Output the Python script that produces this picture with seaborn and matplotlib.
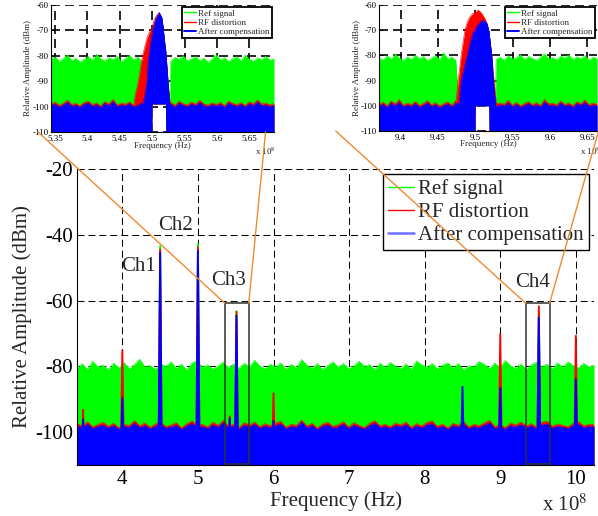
import numpy as np
import matplotlib
matplotlib.use("Agg")
import matplotlib.pyplot as plt
import seaborn as sns
from matplotlib.lines import Line2D
from matplotlib.patches import Rectangle, ConnectionPatch

# ---------------------------------------------------------------- data
series_names = ["Ref signal", "RF distortion", "After compensation"]

# main spectrum: x in units of 1e8 Hz, levels in dBm
main_xlim = (3.4, 10.24)
main_green_top = [
    -80.3, -79.2, -80.9, -78.4, -80.1, -79.6, -81.0, -79.0, -80.4, -78.8,
    -80.7, -79.4, -77.8, -80.2, -79.7, -80.9, -79.1, -80.0, -78.6, -80.5,
    -79.3, -81.1, -78.9, -78.2, -80.3, -79.5, -80.8, -79.8, -78.7, -80.4,
    -79.2, -80.6, -79.0, -80.1, -78.1, -79.9, -80.7, -79.3, -80.2, -78.9,
    -80.8, -79.4, -80.3, -77.9, -79.6, -80.5, -79.1, -80.9, -79.7, -78.6,
    -80.2, -79.1, -80.6, -79.8, -78.4, -80.0, -79.4, -81.0, -79.0, -80.3,
    -78.8, -79.9, -80.6, -79.2, -80.8, -78.3, -79.5, -80.2, -79.1, -80.7,
    -79.6, -78.9, -80.4, -79.1, -81.0, -79.8, -80.1, -78.5, -79.4, -80.6,
    -79.0, -80.3, -78.2, -79.8, -80.5, -79.2, -80.9, -79.5, -78.7, -80.0,
    -79.3, -80.7, -78.9, -80.2, -78.6, -79.7, -80.4, -79.1, -80.1, -79.6]
main_red_floor = [
    -97.4, -98.1, -96.8, -98.4, -97.6, -97.0, -98.2, -97.3, -98.6, -97.7,
    -97.9, -96.5, -98.0, -97.2, -98.5, -97.5, -96.9, -98.3, -97.8, -97.1,
    -98.7, -97.4, -96.6, -98.0, -97.6, -98.4, -97.0, -97.9, -96.4, -98.2,
    -97.5, -98.6, -97.1, -97.8, -96.9, -98.3, -97.4, -98.0, -97.2, -96.7,
    -98.5, -97.6, -97.9, -96.3, -98.1, -97.3, -98.7, -97.5, -97.0, -98.2,
    -97.7, -96.8, -98.4, -97.1, -97.9, -98.6, -97.3, -96.5, -98.0, -97.6,
    -98.3, -97.2, -97.8, -96.9, -98.5, -97.4, -98.1, -97.0, -96.6, -98.2,
    -97.5, -98.7, -97.3, -97.9, -96.8, -98.4, -97.6, -98.0, -97.1, -96.4,
    -98.3, -97.7, -98.6, -97.2, -97.8, -96.9, -98.1, -97.4, -98.5, -97.0,
    -96.7, -98.2, -97.5, -97.9, -98.4, -97.3, -96.8, -98.0, -97.6, -97.8]
main_blue_floor = [
    -98.1, -98.6, -97.6, -98.9, -98.2, -97.9, -98.7, -98.0, -99.1, -98.3,
    -98.5, -97.3, -98.6, -98.0, -99.0, -98.2, -97.7, -98.8, -98.4, -97.9,
    -99.2, -98.1, -97.4, -98.6, -98.3, -98.9, -97.8, -98.5, -97.1, -98.7,
    -98.2, -99.1, -97.9, -98.4, -97.6, -98.8, -98.1, -98.6, -98.0, -97.5,
    -99.0, -98.3, -98.5, -97.0, -98.7, -98.0, -99.2, -98.2, -97.8, -98.8,
    -98.4, -97.6, -98.9, -97.9, -98.5, -99.1, -98.0, -97.3, -98.6, -98.3,
    -98.8, -98.0, -98.4, -97.7, -99.0, -98.1, -98.7, -97.8, -97.4, -98.8,
    -98.2, -99.2, -98.0, -98.5, -97.6, -98.9, -98.3, -98.6, -97.9, -97.2,
    -98.9, -98.4, -99.1, -98.0, -98.4, -97.7, -98.7, -98.1, -99.0, -97.8,
    -97.5, -98.8, -98.2, -98.5, -98.9, -98.0, -97.6, -98.6, -98.3, -98.4]

# spectral peaks (centre in 1e8 Hz, peak level in dBm)
green_peak_freq = [4.5, 5.0, 5.51, 9.51]
green_peak_top = [-43.2, -42.6, -63.0, -63.0]
red_peak_freq = [3.48, 4.0, 4.5, 5.0, 5.42, 5.51, 6.0, 9.0, 9.51, 10.0]
red_peak_top = [-93.0, -75.0, -44.3, -43.6, -95.0, -63.2, -88.0, -70.0, -61.5, -70.5]
blue_peak_freq = [3.48, 4.0, 4.5, 5.0, 5.42, 5.51, 6.0, 8.5, 9.0, 9.51, 10.0]
blue_peak_top = [-96.0, -89.5, -45.3, -44.7, -95.6, -64.4, -96.5, -86.0, -86.4, -65.0, -83.7]

channel_names = ["Ch1", "Ch2", "Ch3", "Ch4"]
channel_label_x = [4.21, 4.70, 5.40, 9.425]
channel_label_y = [-49.6, -37.1, -53.9, -54.4]

# zoomed windows marked on the main spectrum
box_x = [(5.355, 5.672), (9.336, 9.653)]
box_y = (-109.8, -60.8)

# zoom on Ch3
ins1_xlim = (5.344, 5.688)
ins1_xticks = [5.35, 5.40, 5.45, 5.50, 5.55, 5.60, 5.65]
ins1_xticklabels = ["5.35", "5.4", "5.45", "5.5", "5.55", "5.6", "5.65"]
ins1_green_top = [
    -81.2, -80.4, -82.1, -81.0, -79.6, -81.8, -80.9, -82.4, -81.3, -80.2,
    -81.7, -79.3, -81.1, -82.0, -80.7, -81.5, -80.1, -82.3, -81.0, -79.8,
    -81.6, -80.5, -82.2, -81.2, -80.0, -81.9, -80.8, -79.1, -81.4, -82.1,
    -80.6, -81.3, -79.9, -82.0, -81.1, -80.3, -81.8, -80.9, -82.5, -81.2,
    -79.5, -81.6, -80.7, -82.2, -81.0, -80.4, -81.9, -79.7, -81.3, -82.1,
    -80.8, -81.5, -80.2, -81.7, -81.0]
ins1_red_floor = [
    -98.9, -98.2, -99.5, -98.6, -97.4, -99.1, -98.7, -99.6, -98.3, -97.8,
    -99.2, -98.5, -99.7, -98.0, -98.9, -97.1, -99.3, -98.6, -99.0, -98.1,
    -99.4, -98.8, -97.6, -99.2, -98.4, -99.6, -98.7, -98.0, -99.1, -98.3,
    -99.5, -97.9, -98.8, -99.3, -98.2, -99.0, -97.5, -98.9, -99.4, -98.5,
    -99.1, -98.3, -99.6, -97.8, -98.7, -99.2, -98.4, -99.5, -98.1, -98.9,
    -97.3, -99.0, -98.6, -99.3, -98.8]
ins1_blue_floor = [
    -99.6, -99.0, -100.2, -99.3, -98.3, -99.8, -99.4, -100.3, -99.1, -98.6,
    -99.9, -99.2, -100.4, -98.7, -99.6, -98.0, -100.0, -99.3, -99.7, -98.9,
    -100.1, -99.5, -98.5, -99.9, -99.2, -100.3, -99.4, -98.8, -99.8, -99.0,
    -100.2, -98.6, -99.5, -100.0, -99.0, -99.7, -98.4, -99.6, -100.1, -99.2,
    -99.8, -99.1, -100.3, -98.6, -99.4, -99.9, -99.1, -100.2, -98.9, -99.6,
    -98.2, -99.7, -99.3, -100.0, -99.5]
ins1_blue_band_x = [5.486, 5.489, 5.492, 5.494, 5.497, 5.4995, 5.500, 5.503, 5.506, 5.509,
                    5.511, 5.513, 5.515, 5.517, 5.519, 5.5205, 5.521, 5.523, 5.525, 5.527]
ins1_blue_band_top = [-99, -95, -90, -82, -76, -72, -71, -68, -65, -64,
                      -63, -64, -65, -69, -74, -77, -78, -85, -92, -99]
ins1_blue_band_bot = [-110, -110, -110, -110, -110, -110, -99, -99, -99, -99,
                      -99, -99, -99, -99, -99, -99, -110, -110, -110, -110]
ins1_red_band_x = [5.472, 5.474, 5.477, 5.480, 5.483, 5.486, 5.489, 5.492, 5.495, 5.4995,
                   5.500, 5.503, 5.506, 5.509, 5.511, 5.513, 5.515, 5.517, 5.519, 5.5205,
                   5.521, 5.523, 5.525, 5.528]
ins1_red_band_top = [-99, -95, -92, -88, -83, -79, -76, -73, -71, -69,
                     -68.5, -66, -64.5, -63.5, -63, -64, -65, -69, -74, -77,
                     -78, -85, -92, -99]
ins1_red_band_bot = [-110, -110, -110, -110, -110, -110, -110, -110, -110, -110,
                     -99, -99, -99, -99, -99, -99, -99, -99, -99, -99,
                     -110, -110, -110, -110]

# zoom on Ch4
ins2_xlim = (9.371, 9.663)
ins2_xticks = [9.40, 9.45, 9.50, 9.55, 9.60, 9.65]
ins2_xticklabels = ["9.4", "9.45", "9.5", "9.55", "9.6", "9.65"]
ins2_green_top = [
    -80.9, -81.8, -80.2, -81.4, -79.4, -81.0, -82.0, -80.6, -81.5, -79.9,
    -81.2, -80.4, -82.1, -81.0, -80.1, -81.7, -78.9, -81.3, -80.6, -81.9,
    -80.3, -81.1, -79.7, -81.6, -80.8, -82.2, -80.5, -81.2, -79.2, -81.5,
    -80.7, -81.9, -80.1, -81.3, -80.9, -79.6, -81.7, -80.4, -81.1, -82.0,
    -80.6, -79.3, -81.4, -80.8, -81.8, -80.2, -81.0, -79.8, -81.6, -80.5,
    -81.3, -80.0, -81.9, -80.7, -81.2]
ins2_red_floor = [
    -99.4, -98.6, -99.9, -98.1, -99.2, -97.5, -99.7, -98.9, -99.5, -98.3,
    -99.8, -99.0, -97.9, -99.6, -98.7, -100.0, -99.1, -98.4, -99.7, -98.0,
    -99.3, -98.8, -99.9, -97.6, -99.4, -98.5, -99.8, -99.0, -98.2, -99.6,
    -98.9, -99.3, -97.8, -99.7, -98.6, -99.9, -99.1, -98.3, -99.5, -98.7,
    -99.8, -97.4, -99.2, -98.9, -99.6, -98.1, -99.4, -98.8, -99.9, -98.4,
    -99.1, -97.7, -99.5, -98.9, -99.3]
ins2_blue_floor = [
    -100.1, -99.4, -100.6, -98.9, -100.0, -98.6, -100.4, -99.7, -100.2, -99.1,
    -100.5, -99.8, -98.8, -100.3, -99.5, -100.7, -99.9, -99.2, -100.4, -98.9,
    -100.0, -99.6, -100.6, -98.7, -100.1, -99.3, -100.5, -99.8, -99.0, -100.3,
    -99.7, -100.0, -98.8, -100.4, -99.4, -100.6, -99.9, -99.1, -100.2, -99.5,
    -100.5, -98.5, -99.9, -99.7, -100.3, -98.9, -100.1, -99.6, -100.6, -99.2,
    -99.8, -98.7, -100.2, -99.7, -100.0]
ins2_blue_band_x = [9.478, 9.481, 9.485, 9.489, 9.493, 9.497, 9.4995, 9.500, 9.503, 9.506,
                    9.509, 9.512, 9.515, 9.517, 9.518, 9.5185, 9.520, 9.522, 9.524, 9.527]
ins2_blue_band_top = [-99, -90, -85, -80, -75, -71, -70, -69.5, -68, -67,
                      -66, -66.5, -67, -69, -70, -71, -75, -80, -90, -99]
ins2_blue_band_bot = [-110, -110, -110, -110, -110, -110, -110, -100, -100, -100,
                      -100, -100, -100, -100, -100, -110, -110, -110, -110, -110]
ins2_red_band_x = [9.474, 9.477, 9.479, 9.481, 9.484, 9.486, 9.489, 9.492, 9.496, 9.4995,
                   9.500, 9.502, 9.504, 9.507, 9.510, 9.513, 9.516, 9.518, 9.5185, 9.520,
                   9.522, 9.525, 9.528]
ins2_red_band_top = [-99, -90, -85, -80, -74, -70, -67, -65, -63.5, -63,
                     -62.8, -62.3, -62, -62.8, -64, -65.5, -67.5, -70, -71, -75,
                     -80, -90, -99]
ins2_red_band_bot = [-110, -110, -110, -110, -110, -110, -110, -110, -110, -110,
                     -100, -100, -100, -100, -100, -100, -100, -100, -110, -110,
                     -110, -110, -110]

# ---------------------------------------------------------------- style
sns.set_theme(style="white")
plt.rcParams["font.family"] = ["Liberation Serif", "DejaVu Serif"]
plt.rcParams["mathtext.fontset"] = "stix"
plt.rcParams["axes.unicode_minus"] = False

GREEN, RED, BLUE = "#00ff00", "#ff0000", "#0000ff"
ORANGE = "#ef8a2e"
FLOOR = -110
W, H = 598, 516

fig = plt.figure(figsize=(W / 100, H / 100), dpi=100)


def px_axes(left, top, right, bottom):
    return fig.add_axes([left / W, 1 - bottom / H, (right - left) / W, (bottom - top) / H])


def style_axes(ax, size, grid_ls, grid_lw):
    ax.set_axisbelow(True)
    ax.grid(True, color="black", linestyle=grid_ls, linewidth=grid_lw)
    for side in ("top", "right"):
        ax.spines[side].set_visible(False)
    for side in ("left", "bottom"):
        ax.spines[side].set_color("black")
        ax.spines[side].set_linewidth(0.8)
        ax.spines[side].set_zorder(4)
    ax.tick_params(direction="in", length=3, width=0.6, colors="black",
                   labelsize=size, bottom=True, left=True)


def draw_layer(ax, x, top, bottom, color, z):
    ax.fill_between(x, bottom, top, color=color, linewidth=0, zorder=z)
    sns.lineplot(x=x, y=top, ax=ax, color=color, linewidth=0.4,
                 sort=False, estimator=None, zorder=z + 0.01)


def draw_peaks(ax, freqs, tops, color, z, hw=0.035):
    for c, t in zip(freqs, tops):
        ax.fill([c - hw, c - 0.35 * hw, c + 0.35 * hw, c + hw],
                [FLOOR, t, t, FLOOR], color=color, linewidth=0, zorder=z)


def band_layer(ax, grid, noise, bx, btop, bbot, color, z):
    grid = np.asarray(grid)
    noise = np.asarray(noise)
    keep = (grid < bx[0]) | (grid > bx[-1])
    x = np.concatenate([grid[keep], bx])
    top = np.concatenate([noise[keep], btop])
    bot = np.concatenate([np.full(keep.sum(), FLOOR), bbot])
    order = np.argsort(x, kind="stable")
    draw_layer(ax, x[order], top[order], bot[order], color, z)


# ---------------------------------------------------------------- main spectrum
ax = px_axes(77, 169, 594, 465)
style_axes(ax, 15, (0, (6.7, 3.8)), 0.75)
main_grid = np.linspace(main_xlim[0], main_xlim[1], len(main_green_top))

draw_layer(ax, main_grid, main_green_top, FLOOR, GREEN, 1.0)
draw_peaks(ax, green_peak_freq, green_peak_top, GREEN, 1.05)
draw_layer(ax, main_grid, main_red_floor, FLOOR, RED, 1.1)
draw_peaks(ax, red_peak_freq, red_peak_top, RED, 1.15)
draw_layer(ax, main_grid, main_blue_floor, FLOOR, BLUE, 1.2)
draw_peaks(ax, blue_peak_freq, blue_peak_top, BLUE, 1.25)

ax.set_xlim(*main_xlim)
ax.set_ylim(FLOOR, -20)
ax.set_xticks([4, 5, 6, 7, 8, 9, 10])
ax.set_xticklabels(["4", "5", "6", "7", "8", "9", "10"])
ax.set_yticks([-100, -80, -60, -40, -20])
ax.set_yticklabels(["-100", "-80", "-60", "-40", "-20"])
ax.tick_params(axis="x", pad=3.5)
ax.tick_params(axis="y", pad=3)
ax.set_xlabel("Frequency (Hz)", fontsize=15)
ax.set_ylabel("Relative Amplitude (dBm)", fontsize=15)
ax.xaxis.set_label_coords(0.5, -0.088)
ax.yaxis.set_label_coords(-0.087, 0.5)

for name, lx, ly in zip(channel_names, channel_label_x, channel_label_y):
    ax.text(lx, ly, name, fontsize=15, ha="center", va="center", zorder=6)

for x0, x1 in box_x:
    ax.add_patch(Rectangle((x0, box_y[0]), x1 - x0, box_y[1] - box_y[0], fill=False,
                           edgecolor="#303030", linewidth=1.1, zorder=5))

legend_handles = [Line2D([], [], color=GREEN, lw=1.0),
                  Line2D([], [], color=RED, lw=1.0),
                  Line2D([], [], color="#6f6fff", lw=1.8)]
leg = ax.legend(legend_handles, series_names, loc="upper right", fontsize=15,
                frameon=True, fancybox=False, framealpha=1, edgecolor="black",
                borderpad=0.25, labelspacing=0.15, handlelength=1.25,
                handletextpad=0.2, borderaxespad=0.24)
leg.get_frame().set_linewidth(1.0)
leg.set_zorder(7)

fig.text(587 / W, 1 - 511 / H, "x 10$^{8}$", fontsize=15, ha="right", va="baseline")

# ---------------------------------------------------------------- zoomed panels
insets = [
    dict(rect=(51, 5, 274, 132), xlim=ins1_xlim, xt=ins1_xticks, xtl=ins1_xticklabels,
         green=ins1_green_top, red=ins1_red_floor, blue=ins1_blue_floor,
         bbx=ins1_blue_band_x, bbt=ins1_blue_band_top, bbb=ins1_blue_band_bot,
         rbx=ins1_red_band_x, rbt=ins1_red_band_top, rbb=ins1_red_band_bot,
         exp=(255, 155)),
    dict(rect=(379, 5, 597, 131), xlim=ins2_xlim, xt=ins2_xticks, xtl=ins2_xticklabels,
         green=ins2_green_top, red=ins2_red_floor, blue=ins2_blue_floor,
         bbx=ins2_blue_band_x, bbt=ins2_blue_band_top, bbb=ins2_blue_band_bot,
         rbx=ins2_red_band_x, rbt=ins2_red_band_top, rbb=ins2_red_band_bot,
         exp=(580, 155)),
]
inset_axes = []
for spec in insets:
    ia = px_axes(*spec["rect"])
    style_axes(ia, 6.5, (0, (5.4, 3.0)), 1.2)
    grid = np.linspace(spec["xlim"][0], spec["xlim"][1], len(spec["green"]))
    band_layer(ia, grid, spec["green"], spec["bbx"], spec["bbt"], spec["bbb"], GREEN, 1.0)
    band_layer(ia, grid, spec["red"], spec["rbx"], spec["rbt"], spec["rbb"], RED, 1.1)
    band_layer(ia, grid, spec["blue"], spec["bbx"], spec["bbt"], spec["bbb"], BLUE, 1.2)
    ia.set_xlim(*spec["xlim"])
    ia.set_ylim(FLOOR, -60)
    ia.set_xticks(spec["xt"])
    ia.set_xticklabels(spec["xtl"])
    ia.set_yticks([-110, -100, -90, -80, -70, -60])
    ia.set_yticklabels(["-110", "-100", "-90", "-80", "-70", "-60"])
    ia.tick_params(axis="x", pad=2.0)
    ia.tick_params(axis="y", pad=1.5)
    ia.set_xlabel("Frequency (Hz)", fontsize=6.5)
    ia.set_ylabel("Relative Amplitude (dBm)", fontsize=6.5)
    ia.xaxis.set_label_coords(0.5, -0.075)
    ia.yaxis.set_label_coords(-0.083, 0.5)
    il = ia.legend(legend_handles[:2] + [Line2D([], [], color=BLUE, lw=1.4)], series_names,
                   loc="upper right", fontsize=6.5, frameon=True, fancybox=False,
                   framealpha=1, edgecolor="black", borderpad=0.25, labelspacing=0.1,
                   handlelength=1.3, handletextpad=0.3, borderaxespad=0.22)
    il.get_frame().set_linewidth(1.3)
    fig.text(spec["exp"][0] / W, 1 - spec["exp"][1] / H, "x 10$^{8}$", fontsize=6.5,
             ha="left", va="baseline")
    inset_axes.append(ia)

# connector lines from the marked windows to the zoomed panels
links = [
    ((box_x[0][0], box_y[1]), (5.324, FLOOR), 0),
    ((box_x[0][1], box_y[1]), (5.675, FLOOR), 0),
    ((box_x[1][0], box_y[1]), (9.313, FLOOR), 1),
    ((box_x[1][1], box_y[1]), (9.666, -109.0), 1),
]
for main_pt, inset_pt, k in links:
    cp = ConnectionPatch(xyA=main_pt, coordsA=ax.transData,
                         xyB=inset_pt, coordsB=inset_axes[k].transData,
                         color=ORANGE, linewidth=1.0, zorder=8)
    fig.add_artist(cp)

fig.savefig("out.png", dpi=100)
